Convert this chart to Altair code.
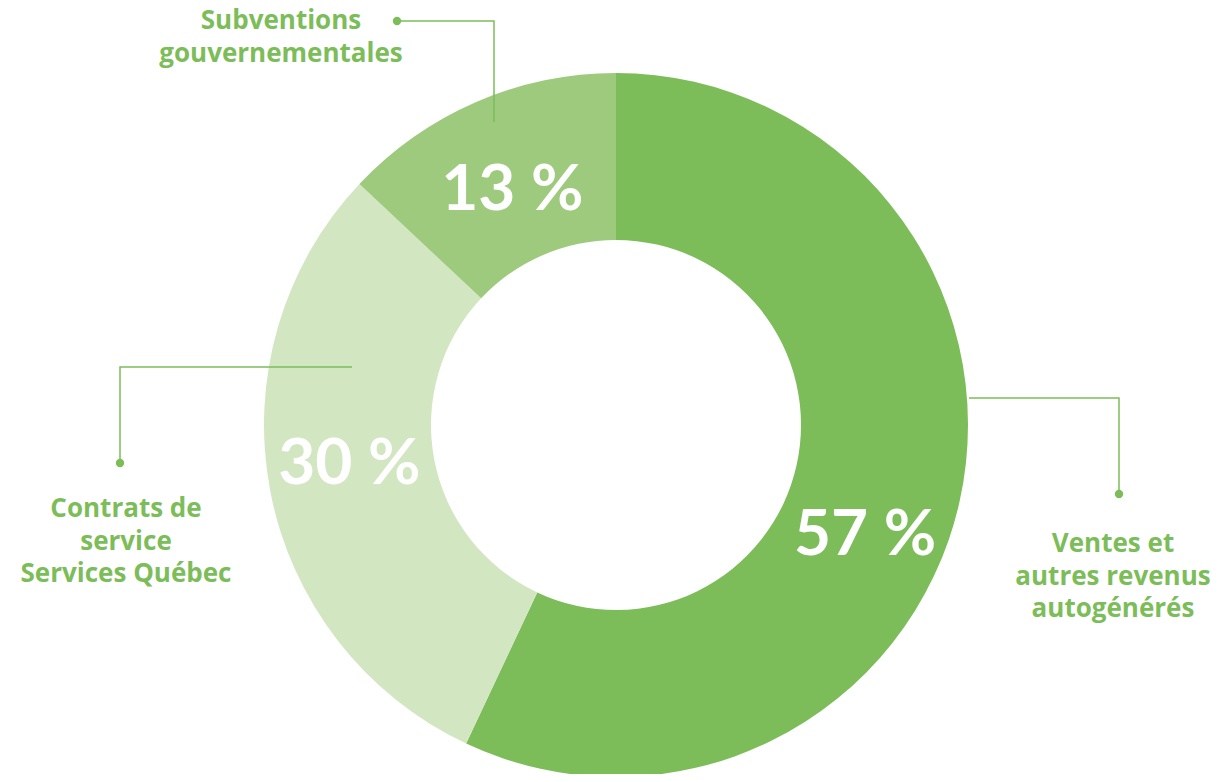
import altair as alt
import pandas as pd

# --- data ---
categories = ["Ventes et autres revenus autogénérés",
              "Contrats de service Services Québec",
              "Subventions gouvernementales"]
shares = [57, 30, 13]
pct_labels = ["57 %", "30 %", "13 %"]
slice_order = [1, 2, 3]
slice_colors = ["#7cbd5a", "#d3e6c2", "#9dca7c"]

# category captions (multi-line)
caption_lines = [["Ventes et", "autres revenus", "autogénérés"],
                 ["Contrats de", "service", "Services Québec"],
                 ["Subventions", "gouvernementales"]]
caption_x = [1105, 118, 273]
caption_y = [544, 509, 21]

# leader lines (annotation points, plot-pixel space)
leader_group = ["v", "v", "v", "c", "c", "c", "s", "s", "s"]
leader_step = [0, 1, 2, 0, 1, 2, 0, 1, 2]
leader_x = [961, 1111, 1111, 344, 112, 112, 389, 486, 486]
leader_y = [390, 390, 486, 359, 359, 455, 13, 13, 114]
dot_x = [1111, 112, 389]
dot_y = [486, 455, 13]

# label nudges from slice mid-angle (style)
label_dx = [-13, -3, 3]
label_dy = [52, -10, 12]

W, H = 1212, 766
CX, CY = 608, 417
R_OUT, R_IN = 352, 185
GREEN = "#7cbd5a"

df = pd.DataFrame({"cat": categories, "value": shares, "label": pct_labels,
                   "ord": slice_order})

xs = alt.Scale(domain=[0, W], range=[0, W])
ys = alt.Scale(domain=[0, H], range=[0, H])
th = alt.Scale(domain=[0, 100])

base = alt.Chart(df)

arcs = base.mark_arc(radius=R_OUT, radius2=R_IN, stroke=None).encode(
    theta=alt.Theta("value:Q", stack=True, scale=th),
    order=alt.Order("ord:Q"),
    color=alt.Color("cat:N", scale=alt.Scale(domain=categories, range=slice_colors), legend=None),
    x=alt.value(CX), y=alt.value(CY),
)

stacked = base.transform_window(
    cum="sum(value)", sort=[alt.SortField("ord")], frame=[None, 0]
).transform_calculate(mid="datum.cum - datum.value / 2")

pct_font = dict(font="Lato", fontSize=64, fontWeight="bold", color="white",
                align="center", baseline="middle")

pct_layers = []
for o, ddx, ddy in zip(slice_order, label_dx, label_dy):
    pct_layers.append(
        stacked.transform_filter(f"datum.ord == {o}").mark_text(
            radius=(R_OUT + R_IN) / 2, dx=ddx, dy=ddy, **pct_font).encode(
            theta=alt.Theta("mid:Q", stack=None, scale=th),
            text="label:N", x=alt.value(CX), y=alt.value(CY)))

ldf = pd.DataFrame({"g": leader_group, "s": leader_step, "x": leader_x, "y": leader_y})
leaders = alt.Chart(ldf).mark_line(color=GREEN, strokeWidth=1.5).encode(
    x=alt.X("x:Q", scale=xs, axis=None),
    y=alt.Y("y:Q", scale=ys, axis=None),
    detail="g:N", order="s:Q")

ddf = pd.DataFrame({"x": dot_x, "y": dot_y})
dots = alt.Chart(ddf).mark_circle(color=GREEN, size=70, opacity=1).encode(
    x=alt.X("x:Q", scale=xs, axis=None),
    y=alt.Y("y:Q", scale=ys, axis=None))

cdf = pd.DataFrame({"t": caption_lines, "x": caption_x, "y": caption_y})
captions = alt.Chart(cdf).mark_text(
    font="Open Sans", fontSize=26, fontWeight="bold", color=GREEN,
    align="center", baseline="alphabetic", lineHeight=32.5).encode(
    x=alt.X("x:Q", scale=xs, axis=None),
    y=alt.Y("y:Q", scale=ys, axis=None),
    text="t")

chart = alt.layer(arcs, *pct_layers, leaders, dots, captions).properties(
    width=W, height=H, padding=0,
    autosize=alt.AutoSizeParams(type="none"),
).configure_view(stroke=None)

chart.save("out.html", embed_options={"renderer": "svg", "actions": False})
